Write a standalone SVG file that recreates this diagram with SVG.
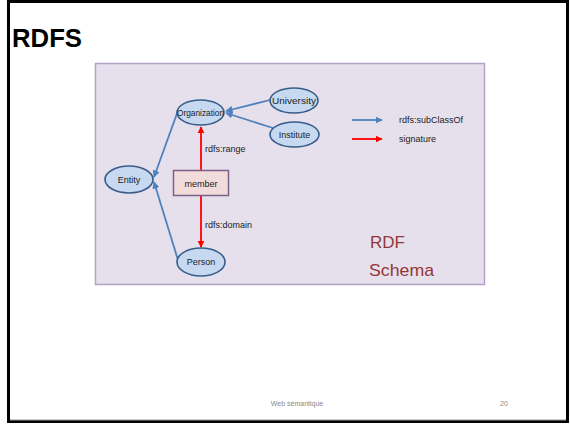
<svg xmlns="http://www.w3.org/2000/svg" width="570" height="424" viewBox="0 0 570 424">
<style>
.node ellipse{fill:#c6d9f1;stroke:#385d8a;stroke-width:1.6}
.lbl{font-family:"Liberation Sans",Arial,sans-serif;font-size:9px;fill:#222;text-anchor:middle}
.sub{stroke:#4f81bd;stroke-width:1.8;fill:none;marker-end:url(#ab)}
.sig{stroke:#ff0000;stroke-width:1.8;fill:none;marker-end:url(#ar)}
.t{font-family:"Liberation Sans",Arial,sans-serif;font-size:9px;fill:#222}
.big{font-family:"Liberation Sans",Arial,sans-serif;font-size:17px;fill:#953735}
</style>
<defs>
<marker id="ab" viewBox="0 0 10 10" refX="9" refY="5" markerWidth="4" markerHeight="4" orient="auto" markerUnits="strokeWidth"><path d="M0,0L10,5L0,10z" fill="#4f81bd"/></marker>
<marker id="ar" viewBox="0 0 10 10" refX="9" refY="5" markerWidth="4" markerHeight="4" orient="auto" markerUnits="strokeWidth"><path d="M0,0L10,5L0,10z" fill="#ff0000"/></marker>
</defs>
<rect x="0" y="0" width="570" height="424" fill="#fff"/>
<rect x="8.5" y="1.5" width="559" height="420" fill="none" stroke="#000" stroke-width="3"/>
<line x1="10" y1="420" x2="566" y2="420" stroke="#999" stroke-width="1"/>
<text x="12" y="47" font-family="Liberation Sans,Arial,sans-serif" font-size="26" font-weight="bold" fill="#000" textLength="70" lengthAdjust="spacingAndGlyphs">RDFS</text>
<rect x="95.5" y="63.5" width="389" height="221" fill="#e6e0ec" stroke="#b3a2c7" stroke-width="1.5"/>
<g id="connectors">
<line class="sub" x1="270" y1="100" x2="226" y2="111"/>
<line class="sub" x1="273" y1="128" x2="226" y2="113"/>
<line class="sub" x1="179" y1="108" x2="154" y2="177"/>
<line class="sub" x1="178" y1="260" x2="154" y2="182"/>
<line class="sig" x1="201" y1="170" x2="201" y2="127"/>
<line class="sig" x1="201" y1="196" x2="201" y2="247"/>
<text class="t" x="205" y="152">rdfs:range</text>
<text class="t" x="205" y="228">rdfs:domain</text>
</g>
<g id="Organization" class="node"><ellipse cx="200.5" cy="112.5" rx="23.5" ry="12.5"/><text class="lbl" x="200.5" y="115.5" textLength="47" lengthAdjust="spacingAndGlyphs">Organization</text></g>
<g id="University" class="node"><ellipse cx="294" cy="100.5" rx="24" ry="12.5"/><text class="lbl" x="294" y="103.5" textLength="44" lengthAdjust="spacingAndGlyphs">University</text></g>
<g id="Institute" class="node"><ellipse cx="294.5" cy="134.5" rx="24.5" ry="12.5"/><text class="lbl" x="294.5" y="137.5">Institute</text></g>
<g id="Entity" class="node"><ellipse cx="129" cy="179.5" rx="24" ry="13.5"/><text class="lbl" x="129" y="182.5">Entity</text></g>
<g id="Person" class="node"><ellipse cx="201" cy="262" rx="24" ry="14"/><text class="lbl" x="201" y="265">Person</text></g>
<g id="member"><rect x="173.5" y="170.5" width="55" height="25" fill="#f2dcdb" stroke="#7f5f87" stroke-width="1.5"/><text class="lbl" x="201" y="186.5">member</text></g>
<g id="legend">
<line class="sub" x1="352" y1="120" x2="382" y2="120"/>
<line class="sig" x1="352" y1="139" x2="382" y2="139"/>
<text class="t" x="399" y="123">rdfs:subClassOf</text>
<text class="t" x="399" y="142">signature</text>
</g>
<text class="big" x="370" y="248">RDF</text>
<text class="big" x="369" y="276" textLength="65" lengthAdjust="spacingAndGlyphs">Schema</text>
<text x="297" y="406" font-family="Liberation Sans,Arial,sans-serif" font-size="7" fill="#888" text-anchor="middle">Web sémantique</text>
<text x="504" y="406" font-family="Liberation Sans,Arial,sans-serif" font-size="7" fill="#888" text-anchor="middle">20</text>
</svg>
